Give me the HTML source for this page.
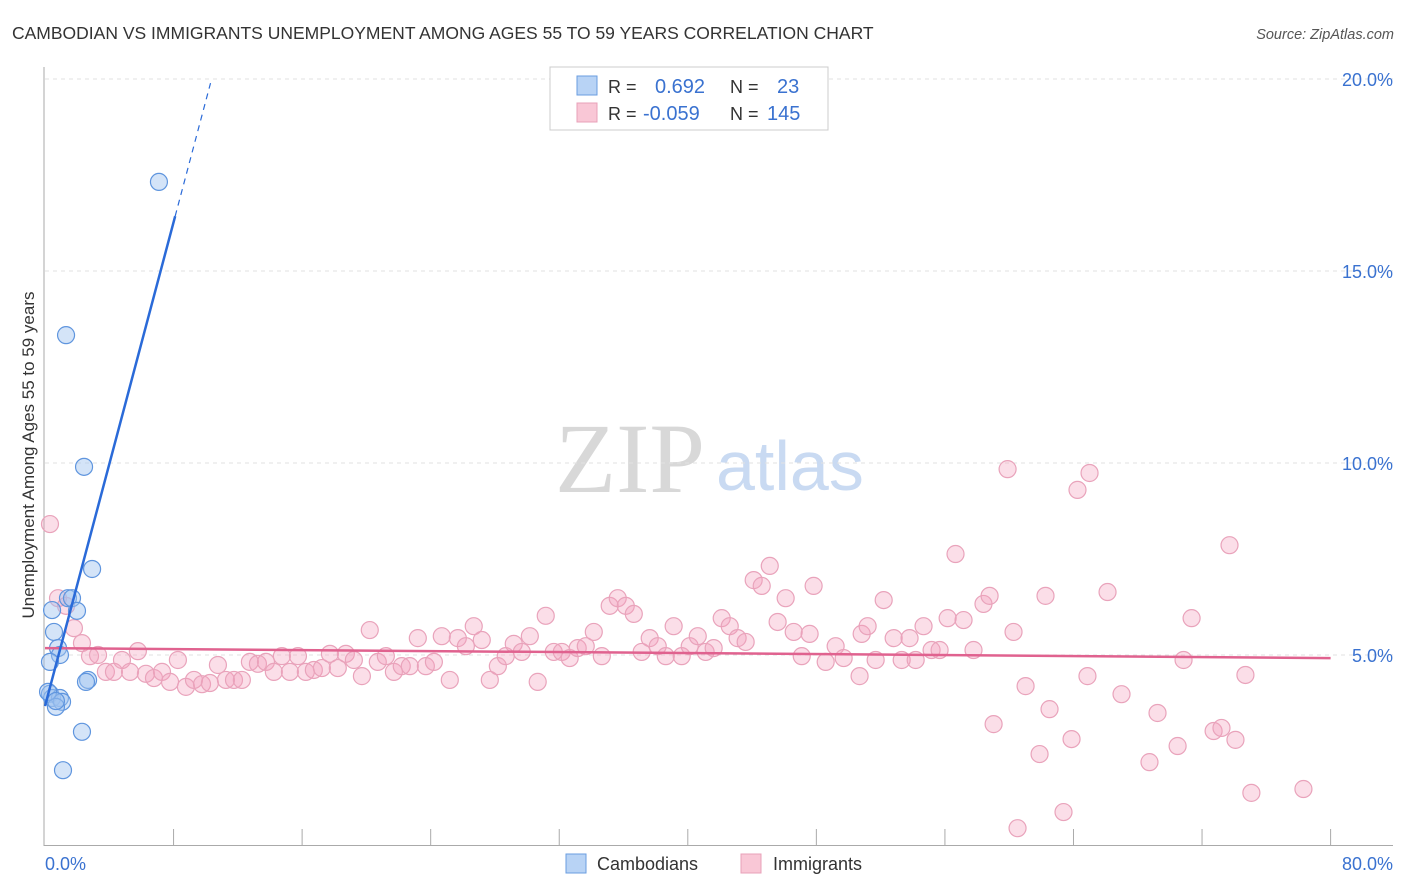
<!DOCTYPE html>
<html><head><meta charset="utf-8"><style>
body{margin:0;background:#fff;font-family:"Liberation Sans",sans-serif}
svg{display:block}
</style></head><body>
<svg id="chart" width="1406" height="892" xmlns="http://www.w3.org/2000/svg">
<text x="12" y="39" font-size="17.5" fill="#333">CAMBODIAN VS IMMIGRANTS UNEMPLOYMENT AMONG AGES 55 TO 59 YEARS CORRELATION CHART</text>
<text x="1394" y="39" font-size="14.5" fill="#555" font-style="italic" text-anchor="end">Source: ZipAtlas.com</text>
<text x="555" y="492" font-family="Liberation Serif,serif" font-size="100" fill="#d8d8d8">ZIP</text>
<text x="716" y="490" font-size="70" fill="#c9daf2">atlas</text>
<g id="grid"></g>
<g id="axes"></g>
<g id="marks"></g>
<text transform="translate(34,455) rotate(-90)" font-size="17" fill="#333" text-anchor="middle">Unemployment Among Ages 55 to 59 years</text>
<g>
<rect x="550" y="67" width="278" height="63" fill="#fff" stroke="#ccc"/>
<rect x="577" y="76" width="20" height="19" fill="#b8d3f5" stroke="#6a9ee0"/>
<rect x="577" y="103" width="20" height="19" fill="#f9c7d6" stroke="#e8a0b8"/>
<text x="608" y="93" font-size="18" fill="#333">R =</text>
<text x="655" y="93" font-size="20" fill="#3a72d0">0.692</text>
<text x="730" y="93" font-size="18" fill="#333">N =</text>
<text x="777" y="93" font-size="20" fill="#3a72d0">23</text>
<text x="608" y="120" font-size="18" fill="#333">R =</text>
<text x="643" y="120" font-size="20" fill="#3a72d0">-0.059</text>
<text x="730" y="120" font-size="18" fill="#333">N =</text>
<text x="767" y="120" font-size="20" fill="#3a72d0">145</text>
</g>
<g>
<rect x="566" y="854" width="20" height="19" fill="#b8d3f5" stroke="#6a9ee0"/>
<text x="597" y="870" font-size="18" fill="#333">Cambodians</text>
<rect x="741" y="854" width="20" height="19" fill="#f9c7d6" stroke="#e8a0b8"/>
<text x="773" y="870" font-size="18" fill="#333">Immigrants</text>
</g>
</svg>
<script>
const yTicks=[5,10,15,20];
const yTickLabels=["5.0%","10.0%","15.0%","20.0%"];
const xTickCount=10;
const blueX=[7.09,1.31,2.43,2.93,1.43,1.68,1.99,0.44,0.56,0.81,0.93,0.31,2.68,2.55,0.31,0.44,0.93,1.06,0.68,2.3,1.12,0.19,0.68];
const blueY=[17.32,13.33,9.9,7.24,6.48,6.48,6.15,6.17,5.6,5.18,5.0,4.82,4.35,4.3,3.99,3.88,3.88,3.78,3.65,3.0,2.0,4.04,3.8];
const pinkX=[0.31,0.81,1.31,1.80,2.30,2.80,3.30,3.79,4.29,4.79,5.29,5.78,6.28,6.78,7.28,7.78,8.27,8.77,9.27,9.77,10.26,10.76,11.26,11.76,12.25,12.75,13.25,13.75,14.24,14.74,15.24,15.74,16.23,16.73,17.23,17.73,18.22,18.72,19.22,19.72,20.21,20.71,21.21,21.71,22.20,22.70,23.20,23.70,24.20,24.69,25.19,25.69,26.19,26.68,27.18,27.68,28.18,28.67,29.17,29.67,30.17,30.66,31.16,31.66,32.16,32.65,33.15,33.65,34.15,34.65,35.14,35.64,36.14,36.64,37.13,37.63,38.13,38.63,39.12,39.62,40.12,40.62,41.11,41.61,42.11,42.61,43.10,43.60,44.10,44.60,45.10,45.59,46.09,46.59,47.09,47.58,47.83,48.58,49.20,49.70,50.82,50.69,51.19,51.69,52.19,52.81,53.31,53.80,54.18,54.67,55.17,55.67,56.17,56.66,57.16,57.78,58.40,58.78,59.03,59.90,60.27,60.52,61.02,61.89,62.26,62.51,63.38,63.88,64.25,64.87,65.00,66.12,66.99,68.73,69.23,70.48,70.85,71.35,72.72,73.21,73.71,74.08,74.70,75.07,78.31];
const pinkY=[8.41,6.48,6.28,5.70,5.31,4.97,5.00,4.56,4.56,4.87,4.56,5.10,4.51,4.40,4.56,4.30,4.87,4.17,4.35,4.24,4.27,4.74,4.35,4.35,4.35,4.82,4.77,4.82,4.56,4.97,4.56,4.97,4.56,4.61,4.66,5.03,4.66,5.03,4.87,4.45,5.65,4.82,4.97,4.56,4.71,4.71,5.44,4.71,4.82,5.49,4.35,5.44,5.23,5.75,5.39,4.35,4.71,4.97,5.29,5.08,5.49,4.30,6.02,5.08,5.08,4.92,5.18,5.23,5.60,4.97,6.28,6.48,6.28,6.07,5.08,5.44,5.23,4.97,5.75,4.97,5.23,5.49,5.08,5.18,5.96,5.75,5.44,5.34,6.95,6.80,7.32,5.86,6.48,5.60,4.97,5.55,6.80,4.82,5.23,4.92,5.55,4.45,5.75,4.87,6.43,5.44,4.87,5.44,4.87,5.75,5.13,5.13,5.96,7.63,5.91,5.13,6.33,6.54,3.20,9.84,5.60,0.49,4.19,2.42,6.54,3.59,0.91,2.81,9.30,4.45,9.74,6.64,3.98,2.21,3.49,2.63,4.87,5.96,3.02,3.10,7.86,2.79,4.48,1.41,1.51];
const blueFit=[3.67,1.575];
const pinkFit=[5.18,-0.00325];
const NS="http://www.w3.org/2000/svg";
const X=v=>45+v*16.07, Y=v=>847-v*38.4;
function mk(parent,tag,attrs){const e=document.createElementNS(NS,tag);for(const k in attrs)e.setAttribute(k,attrs[k]);parent.appendChild(e);return e;}
const grid=document.getElementById('grid'),axes=document.getElementById('axes'),marks=document.getElementById('marks');
yTicks.forEach((t,i)=>{
 const l=mk(grid,'line',{x1:45,x2:1393,y1:Y(t),y2:Y(t),stroke:'#e2e2e2','stroke-dasharray':'4,4'});
 
 
 const tx=mk(axes,'text',{x:1393,y:Y(t)+7,'font-size':18,fill:'#3a72d0','text-anchor':'end'});
 tx.textContent=yTickLabels[i];
 
 
});
let a=mk(axes,'line',{x1:44,x2:44,y1:67,y2:846,stroke:'#aaa'});


a=mk(axes,'line',{x1:44,x2:1393,y1:845.5,y2:845.5,stroke:'#aaa'});


for(let i=1;i<=xTickCount;i++){const t=mk(axes,'line',{x1:X(i*8),x2:X(i*8),y1:829,y2:845,stroke:'#aaa'});
 
 }
[[0,'0.0%',45,'start'],[80,'80.0%',1393,'end']].forEach(d=>{const t=mk(axes,'text',{x:d[2],y:870,'font-size':18,fill:'#3a72d0','text-anchor':d[3]});t.textContent=d[1];
 
 });
pinkX.forEach((x,i)=>{const c=mk(marks,'circle',{cx:X(x),cy:Y(pinkY[i]),r:8.5,fill:'rgba(244,160,188,0.35)',stroke:'#e9a3bb','stroke-width':1.2});
 
 });
blueX.forEach((x,i)=>{const c=mk(marks,'circle',{cx:X(x),cy:Y(blueY[i]),r:8.5,fill:'rgba(160,196,240,0.45)',stroke:'#5f95de','stroke-width':1.2});
 
 });
let ln=mk(marks,'line',{x1:X(0),y1:Y(pinkFit[0]),x2:X(80),y2:Y(pinkFit[0]+pinkFit[1]*80),stroke:'#e0628f','stroke-width':2.5});


ln=mk(marks,'line',{x1:X(0),y1:Y(blueFit[0]),x2:X(8.1),y2:Y(blueFit[0]+blueFit[1]*8.1),stroke:'#2a6ad8','stroke-width':2.5});


ln=mk(marks,'line',{x1:X(8.1),y1:Y(blueFit[0]+blueFit[1]*8.1),x2:X(10.3),y2:Y(blueFit[0]+blueFit[1]*10.3),stroke:'#2a6ad8','stroke-width':1.2,'stroke-dasharray':'6,5'});


</script>
</body></html>
